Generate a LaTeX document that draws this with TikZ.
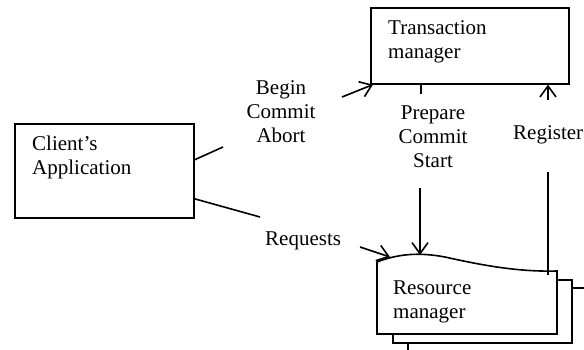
\documentclass[tikz,border=0pt]{standalone}
\usepackage{fontspec}
\setmainfont{Liberation Serif}
\usetikzlibrary{arrows.meta}

\tikzset{
  box/.style={draw=black, line width=1.6pt, fill=white, inner sep=0pt, anchor=north west},
  lbl/.style={font=\fontsize{21}{24}\selectfont, inner sep=0pt, align=left},
  cnct/.style={line width=1.6pt},
  tip/.style={-{Straight Barb[length=11pt,width=16pt,line width=1.6pt]}}
}

\begin{document}
\begin{tikzpicture}[x=1pt, y=-1pt]

\useasboundingbox (0,0) rectangle (584,350);
\clip (0,0) rectangle (584,350);

% boxes
\node[box, minimum width=179pt, minimum height=94pt] (client) at (14,123) {};
\node[box, minimum width=198pt, minimum height=76pt] (tm) at (370,7) {};
\node[box, minimum width=200pt, minimum height=80pt] (rm3) at (407,287) {};
\node[box, minimum width=179pt, minimum height=63pt] (rm2) at (392,279) {};
\filldraw[fill=white, draw=black, line width=1.6pt]
  (377,262) .. controls (398,254) and (418,252) .. (445,257)
  .. controls (485,266) and (520,272) .. (557,271)
  -- (557,334) -- (377,334) -- cycle;

% texts
\node[lbl, anchor=west] (clienttxt) at (32,157) {Client’s\\Application};
\node[lbl, anchor=west] (tmtxt) at (388,42) {Transaction\\manager};
\node[lbl, anchor=west] (rmtxt) at (393,302) {Resource\\manager};
\node[lbl, align=center] (bca) at (281,112) {Begin\\Commit\\Abort};
\node[lbl, align=center] (pcs) at (433,137) {Prepare\\Commit\\Start};
\node[lbl, anchor=base west] (reg) at (513,140) {Register};
\node[lbl, anchor=base west] (req) at (265,245) {Requests};

% connector ends
\coordinate (bca-in) at (223,147);
\coordinate (bca-out) at (342,97);
\coordinate (pcs-out) at (420,188);
\coordinate (rm-top) at (420,255);
\coordinate (reg-low) at (548,275);
\coordinate (reg-in) at (548,172);
\coordinate (reg-out) at (548,100);
\coordinate (req-in) at (260,217);
\coordinate (req-out) at (360,247);
\coordinate (rm-left) at (390,257);

% connectors
\draw[cnct] ([yshift=11pt]client.east) -- (bca-in);
\draw[cnct, tip] (bca-out) -- ([xshift=3pt]tm.south west);
\draw[cnct] ([xshift=-49pt]tm.south) -- +(0,9);
\draw[cnct, tip] (pcs-out) -- (rm-top);
\draw[cnct] (reg-low) -- (reg-in);
\draw[cnct, tip] (reg-out) -- (tm.south -| reg-out);
\draw[cnct] ([yshift=-28pt]client.east) -- (req-in);
\draw[cnct, tip] (req-out) -- (rm-left);

\end{tikzpicture}
\end{document}
